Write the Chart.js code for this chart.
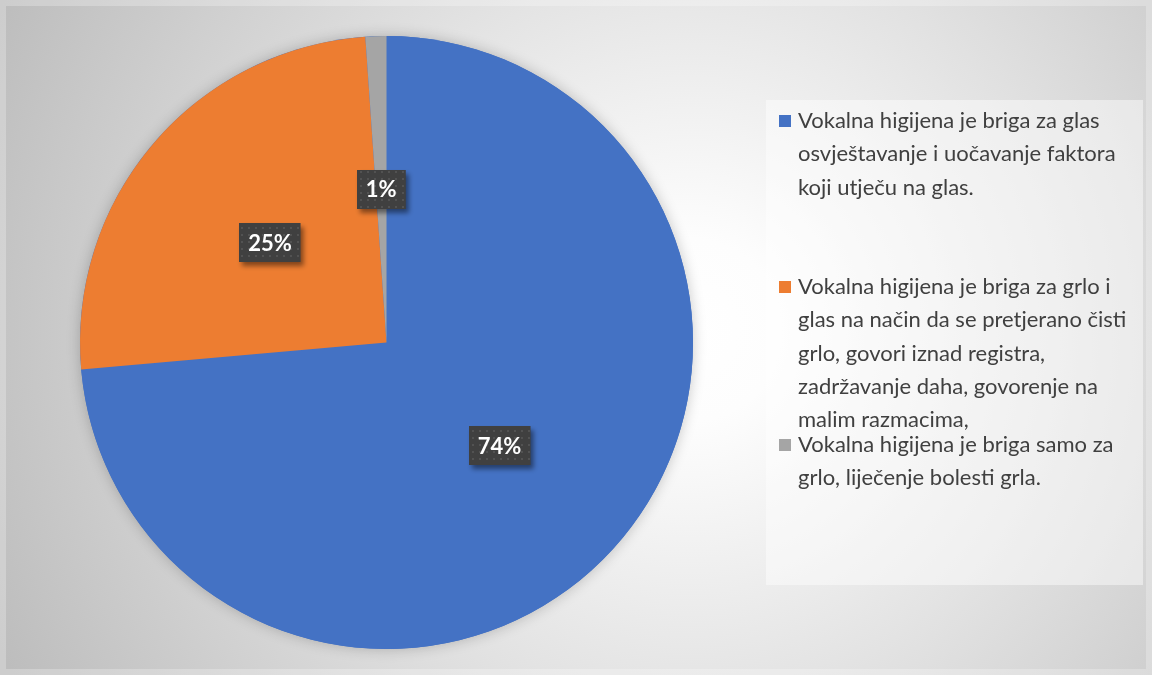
<!DOCTYPE html>
<html>
<head>
<meta charset="utf-8">
<script src="https://cdn.jsdelivr.net/npm/chart.js@4"></script>
<style>
    html, body { margin: 0; padding: 0; background: #ffffff; }
    #wrap { position: relative; width: 1152px; height: 675px; }
</style>
</head>
<body>
<div id="wrap"><canvas id="pieChart" width="1152" height="675"></canvas></div>
<script>
const categories = [
    ["Vokalna higijena je briga za glas", "osvještavanje i uočavanje faktora", "koji utječu na glas."],
    ["Vokalna higijena je briga za grlo i", "glas na način da se pretjerano čisti", "grlo, govori iznad registra,", "zadržavanje daha, govorenje na", "malim razmacima,"],
    ["Vokalna higijena je briga samo za", "grlo, liječenje bolesti grla."]
];
const shares = [73.6, 25.3, 1.1];
const sliceColors = ["#4472C4", "#ED7D31", "#A5A5A5"];

document.addEventListener("DOMContentLoaded", function () {
    const canvas = document.getElementById("pieChart");

    // dotted dark fill used behind the data labels
    function makePattern(ctx) {
        const p = document.createElement("canvas");
        p.width = 7;
        p.height = 7;
        const pc = p.getContext("2d");
        pc.fillStyle = "#404040";
        pc.fillRect(0, 0, 7, 7);
        pc.fillStyle = "#525252";
        pc.fillRect(3, 3, 2, 2);
        return ctx.createPattern(p, "repeat");
    }

    const backgroundPlugin = {
        id: "backgroundPlugin",
        beforeDraw: function (chart) {
            const ctx = chart.ctx;
            const w = chart.width;
            const h = chart.height;
            ctx.save();
            const g = ctx.createRadialGradient(690, 330, 0, 690, 330, 760);
            g.addColorStop(0, "#ffffff");
            g.addColorStop(0.12, "#fdfdfd");
            g.addColorStop(0.5, "#e2e2e2");
            g.addColorStop(1, "#bdbdbd");
            ctx.fillStyle = g;
            ctx.fillRect(0, 0, w, h);
            ctx.strokeStyle = "rgba(255,255,255,0.25)";
            ctx.lineWidth = 6;
            ctx.strokeRect(3, 3, w - 6, h - 6);
            // legend panel
            ctx.fillStyle = "rgba(255,255,255,0.45)";
            ctx.fillRect(766, 100, 377, 485);
            ctx.restore();
        },
        beforeDatasetsDraw: function (chart) {
            const arc = chart.getDatasetMeta(0).data[0];
            if (!arc) return;
            const ctx = chart.ctx;
            ctx.save();
            ctx.shadowColor = "rgba(0,0,0,0.22)";
            ctx.shadowBlur = 14;
            ctx.fillStyle = "#4472C4";
            ctx.beginPath();
            ctx.arc(arc.x, arc.y, arc.outerRadius, 0, Math.PI * 2);
            ctx.fill();
            ctx.restore();
        }
    };

    const labelPlugin = {
        id: "labelPlugin",
        afterDatasetsDraw: function (chart) {
            const ctx = chart.ctx;
            const meta = chart.getDatasetMeta(0);
            const total = shares.reduce(function (a, b) { return a + b; }, 0);
            const pattern = makePattern(ctx);
            ctx.save();
            ctx.font = "bold 22px Lato, 'Open Sans', sans-serif";
            ctx.textAlign = "center";
            ctx.textBaseline = "middle";
            meta.data.forEach(function (arc, i) {
                const pos = arc.getCenterPoint();
                const text = Math.round(shares[i] / total * 100) + "%";
                const tw = ctx.measureText(text).width;
                const bw = tw + 18;
                const bh = 39;
                const bx = Math.round(pos.x - bw / 2);
                const by = Math.round(pos.y - bh / 2);
                ctx.save();
                ctx.shadowColor = "rgba(0,0,0,0.45)";
                ctx.shadowBlur = 5;
                ctx.shadowOffsetX = 3;
                ctx.shadowOffsetY = 4;
                ctx.fillStyle = pattern;
                ctx.fillRect(bx, by, bw, bh);
                ctx.restore();
                ctx.fillStyle = "#ffffff";
                ctx.fillText(text, pos.x, pos.y + 1);
            });
            ctx.restore();
        }
    };

    const legendPlugin = {
        id: "legendPlugin",
        afterDraw: function (chart) {
            const ctx = chart.ctx;
            const itemTops = [121, 287, 445];
            const lineHeight = 33.3;
            ctx.save();
            ctx.font = "22px Lato, 'Open Sans', sans-serif";
            ctx.textAlign = "left";
            ctx.textBaseline = "middle";
            categories.forEach(function (lines, i) {
                const y0 = itemTops[i];
                ctx.fillStyle = sliceColors[i];
                ctx.fillRect(779, y0 - 6, 12, 12);
                ctx.fillStyle = "#404040";
                lines.forEach(function (line, k) {
                    ctx.fillText(line, 798, y0 + k * lineHeight);
                });
            });
            ctx.restore();
        }
    };

    new Chart(canvas, {
        type: "pie",
        data: {
            labels: categories,
            datasets: [
                {
                    data: shares,
                    backgroundColor: sliceColors,
                    borderWidth: 0,
                },
            ],
        },
        options: {
            responsive: false,
            animation: false,
            layout: {
                padding: { left: 80, right: 459, top: 36, bottom: 26 },
            },
            plugins: {
                legend: { display: false },
                tooltip: { enabled: false },
            },
        },
        plugins: [backgroundPlugin, labelPlugin, legendPlugin],
    });
});
</script>
</body>
</html>
